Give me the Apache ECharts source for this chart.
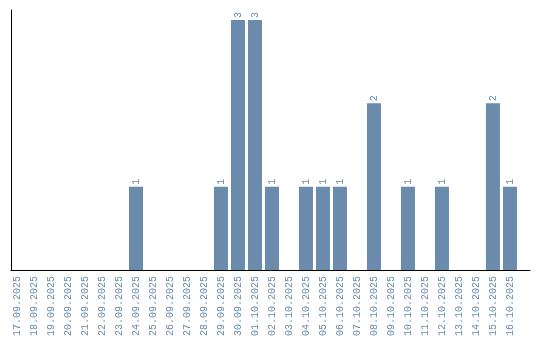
<!DOCTYPE html>
<html><head><meta charset="utf-8">
<script src="https://cdn.jsdelivr.net/npm/echarts@6/dist/echarts.min.js"></script>
<style>html,body{margin:0;padding:0;background:#fff}#c{width:540px;height:340px}</style>
</head><body><div id="c"></div>
<script>
const categories = ["17.09.2025","18.09.2025","19.09.2025","20.09.2025","21.09.2025","22.09.2025","23.09.2025","24.09.2025","25.09.2025","26.09.2025","27.09.2025","28.09.2025","29.09.2025","30.09.2025","01.10.2025","02.10.2025","03.10.2025","04.10.2025","05.10.2025","06.10.2025","07.10.2025","08.10.2025","09.10.2025","10.10.2025","11.10.2025","12.10.2025","13.10.2025","14.10.2025","15.10.2025","16.10.2025"];
const values = [0,0,0,0,0,0,0,1,0,0,0,0,1,3,3,1,0,1,1,1,0,2,0,1,0,1,0,0,2,1];
const color = '#6a8bab';
const chart = echarts.init(document.getElementById('c'));
const idx = categories.map((_, i) => i);
chart.setOption({
  animation: false,
  grid: {left: 11, right: 10, top: 10, bottom: 70, containLabel: false},
  xAxis: {
    type: 'value', min: -0.353, max: 30.18,
    axisLine: {show: true, onZero: false, lineStyle: {color: '#000', width: 1}},
    axisTick: {show: false},
    splitLine: {show: false},
    axisLabel: {
      customValues: idx, rotate: 90, margin: 6,
      color: color, fontSize: 10, fontFamily: 'Liberation Mono',
      formatter: v => categories[Math.round(v)] || ''
    }
  },
  yAxis: {
    type: 'value', min: 0, max: 3.12,
    axisLine: {show: true, onZero: false, lineStyle: {color: '#000', width: 1}},
    axisTick: {show: false}, axisLabel: {show: false}, splitLine: {show: false}
  },
  series: [{
    type: 'bar', barWidth: 14,
    itemStyle: {color: color},
    data: values.map((v, i) => v > 0 ? [i, v] : null).filter(d => d),
    label: {
      show: true, position: 'top', rotate: 90, align: 'left', verticalAlign: 'middle',
      distance: 2, color: color, fontSize: 10, fontFamily: 'Liberation Mono',
      formatter: p => p.value[1]
    }
  }]
});
</script></body></html>
